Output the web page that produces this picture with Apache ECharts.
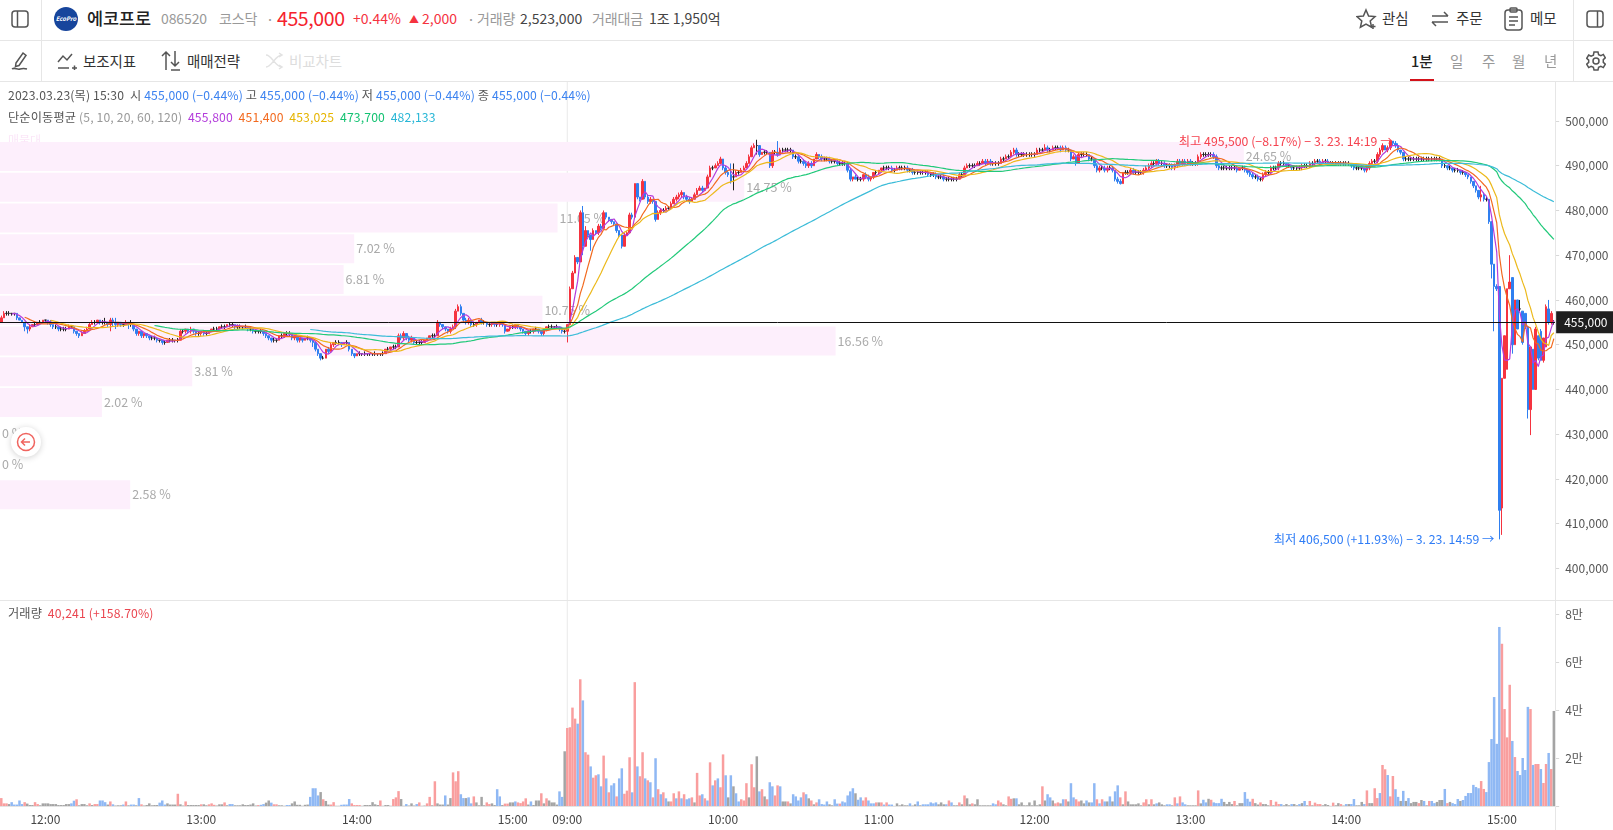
<!DOCTYPE html>
<html>
<head>
<meta charset="utf-8">
<title>에코프로 1분</title>
<script src="https://cdn.jsdelivr.net/npm/echarts@6/dist/echarts.min.js"></script>
<style>
  html, body { margin: 0; padding: 0; background: #fff; overflow: hidden; }
  body { width: 1613px; height: 830px; position: relative; font-family: "Noto Sans CJK KR", "Noto Sans", sans-serif; }
  #chart { position: absolute; left: 0; top: 0; width: 1613px; height: 830px; }
  .t { position: absolute; white-space: nowrap; transform: translateY(-50%); font-size: 14.5px; letter-spacing: -0.1px; color: #333; }
  .g { color: #999; }
  .line { position: absolute; background: #e6e6e6; }
  .ico { position: absolute; fill: none; stroke: #555; stroke-width: 1.5; }
  #bar1 { position: absolute; left: 0; top: 0; width: 1613px; height: 82px; background: #fff; }
  .leg { position: absolute; left: 8px; font-size: 12.2px; letter-spacing: 0.14px; white-space: nowrap; color: #555; transform: translateY(-50%); }
</style>
</head>
<body>
<div id="chart"></div>

<div id="bar1"></div>
<div class="line" style="left:0;top:40px;width:1613px;height:1px"></div>
<div class="line" style="left:0;top:81px;width:1613px;height:1px"></div>
<div class="line" style="left:41px;top:0;width:1px;height:82px"></div>
<div class="line" style="left:1573px;top:0;width:1px;height:82px"></div>
<div class="line" style="left:0;top:600px;width:1613px;height:1px"></div>
<div class="line" style="left:1555px;top:82px;width:1px;height:748px"></div>

<svg class="ico" style="left:11px;top:10px" width="18" height="18"><rect x="1" y="1" width="16" height="16" rx="3"/><line x1="6.5" y1="1" x2="6.5" y2="17"/></svg>
<svg style="position:absolute;left:54px;top:7px" width="24" height="24"><circle cx="12" cy="12" r="12" fill="#17459c"/><text x="12" y="14" font-size="6" font-style="italic" font-weight="700" fill="#fff" text-anchor="middle">EcoPro</text></svg>
<span class="t" style="left:87px;top:17px;font-size:17.5px;font-weight:500;color:#222">에코프로</span>
<span class="t g" style="left:161px;top:18px;font-size:14px">086520</span>
<span class="t g" style="left:219px;top:18px;font-size:14px">코스닥</span>
<span class="t g" style="left:266px;top:18px">·</span>
<span class="t" style="left:277px;top:17px;font-size:19.5px;color:#f5222d;letter-spacing:-0.4px">455,000</span>
<span class="t" style="left:353px;top:18px;font-size:14px;color:#f5333f;letter-spacing:0">+0.44%</span>
<span class="t" style="left:409px;top:18px;font-size:10px;color:#f5333f">▲</span>
<span class="t" style="left:422px;top:18px;font-size:14px;color:#f5333f;letter-spacing:0">2,000</span>
<span class="t g" style="left:467px;top:18px">·</span>
<span class="t g" style="left:477px;top:18px;font-size:14px">거래량</span>
<span class="t" style="left:520px;top:18px;font-size:14px;color:#444;letter-spacing:0">2,523,000</span>
<span class="t g" style="left:592px;top:18px;font-size:14px">거래대금</span>
<span class="t" style="left:649px;top:18px;font-size:14px;color:#444;letter-spacing:0">1조 1,950억</span>

<svg class="ico" style="left:1356px;top:8px" width="22" height="22"><path d="M10 2l2.6 6 6.4.6-4.8 4.3 1.4 6.3L10 16l-5.6 3.2 1.4-6.3L1 8.600l6.400-.6z"/><path d="M17 16v5M14.500 18.500h5"/></svg>
<span class="t" style="left:1382px;top:17px">관심</span>
<svg class="ico" style="left:1430px;top:9px" width="20" height="20"><path d="M2 7h16M14 3l4 4M18 13H2M6 17l-4-4"/></svg>
<span class="t" style="left:1456px;top:17px">주문</span>
<svg class="ico" style="left:1504px;top:7px" width="19" height="24"><rect x="1" y="3" width="17" height="20" rx="3"/><rect x="6" y="1" width="7" height="4" rx="1"/><path d="M5 10h9M5 14h9M5 18h6"/></svg>
<span class="t" style="left:1530px;top:17px">메모</span>
<svg class="ico" style="left:1586px;top:10px" width="18" height="18"><rect x="1" y="1" width="16" height="16" rx="3"/><line x1="11.500" y1="1" x2="11.500" y2="17"/></svg>

<svg class="ico" style="left:11px;top:51px" width="19" height="19"><path d="M5 12L12 2l3 2.500-7 10-3.500 1zM1 18c3-2 5 1 8 0s4-1 7 0"/></svg>
<svg class="ico" style="left:57px;top:52px" width="20" height="18"><path d="M1 10l5-6 4 4 5-6M1 16h11M15 16h5M17.500 13.500v5"/></svg>
<span class="t" style="left:83px;top:60px">보조지표</span>
<svg class="ico" style="left:161px;top:50px" width="20" height="21"><path d="M5 20V2M1 6l4-4 4 4M14 1v15M10 12l4 4 4-4M10 20h9"/></svg>
<span class="t" style="left:187px;top:60px">매매전략</span>
<svg class="ico" style="left:265px;top:52px;stroke:#e2e2e2" width="19" height="18"><path d="M1 3c6 0 9 12 16 12M1 15c6 0 9-12 16-12M14 1l3 2-3 2M14 13l3 2-3 2"/></svg>
<span class="t" style="left:289px;top:60px;color:#ddd">비교차트</span>

<span class="t" style="left:1411px;top:60px;font-weight:500;color:#222">1분</span>
<div style="position:absolute;left:1410px;top:79px;width:24px;height:2px;background:#d3121a"></div>
<span class="t g" style="left:1450px;top:60px">일</span>
<span class="t g" style="left:1482px;top:60px">주</span>
<span class="t g" style="left:1512px;top:60px">월</span>
<span class="t g" style="left:1544px;top:60px">년</span>
<svg class="ico" style="left:1586px;top:51px" width="20" height="20"><circle cx="10" cy="10" r="3"/><path d="M8 1h4l.6 2.600 2.300 1 2.400-1.200 2 3.400-2 1.800v2.800l2 1.800-2 3.400-2.400-1.200-2.300 1L12 19H8l-.6-2.600-2.300-1-2.400 1.200-2-3.400 2-1.800V9.200l-2-1.800 2-3.400 2.400 1.200 2.300-1z"/></svg>

<div class="leg" style="top:95px">2023.03.23(목) 15:30 &nbsp;시 <span style="color:#3b82f0">455,000 (−0.44%)</span> 고 <span style="color:#3b82f0">455,000 (−0.44%)</span> 저 <span style="color:#3b82f0">455,000 (−0.44%)</span> 종 <span style="color:#3b82f0">455,000 (−0.44%)</span></div>
<div class="leg" style="top:117px">단순이동평균 <span style="color:#999">(5, 10, 20, 60, 120)</span> &nbsp;<span style="color:#b33ddb">455,800</span> &nbsp;<span style="color:#f26a1f">451,400</span> &nbsp;<span style="color:#e6b400">453,025</span> &nbsp;<span style="color:#13c272">473,700</span> &nbsp;<span style="color:#27b6d6">482,133</span></div>
<div class="leg" style="top:613px">거래량 &nbsp;<span style="color:#ea4650">40,241 (+158.70%)</span></div>

<div style="position:absolute;left:11px;top:427px;width:30px;height:30px;border-radius:50%;background:#fff;box-shadow:0 1px 6px rgba(0,0,0,.18)">
  <svg width="30" height="30" fill="none" stroke="#f0645f" stroke-width="1.500"><circle cx="15" cy="15" r="8.500"/><path d="M19 15h-8M14 11.500L10.500 15l3.500 3.500M21 21"/></svg>
</div>

<script>
// price values are in units of 100 won (tick is 500 won), one row = 20 minutes
var opens = [
  4550,4560,4570,4570,4570,4570,4570,4560,4555,4550,4540,4535,4540,4545,4545,4550,4550,4555,4555,4550,
  4545,4540,4540,4535,4535,4535,4535,4540,4540,4530,4525,4520,4525,4530,4535,4545,4550,4550,4555,4550,
  4550,4550,4545,4555,4550,4545,4550,4545,4545,4550,4545,4545,4535,4525,4530,4520,4525,4520,4515,4515,
  4515,4510,4510,4505,4505,4510,4510,4510,4510,4510,4530,4530,4535,4530,4535,4530,4525,4525,4530,4525,
  4525,4530,4535,4535,4535,4540,4540,4540,4545,4545,4545,4540,4540,4540,4540,4540,4535,4535,4530,4530,
  4530,4530,4525,4520,4515,4510,4510,4510,4520,4520,4525,4525,4525,4515,4520,4510,4515,4510,4515,4515,
  4510,4505,4490,4480,4470,4470,4490,4485,4500,4505,4505,4505,4500,4505,4505,4490,4480,4475,4480,4480,
  4480,4480,4480,4480,4480,4480,4480,4480,4480,4490,4490,4495,4495,4495,4520,4515,4525,4515,4510,4515,
  4505,4505,4505,4505,4510,4515,4520,4520,4520,4550,4545,4540,4535,4530,4535,4540,4575,4585,4570,4555,
  4550,4555,4545,4545,4550,4555,4550,4550,4545,4545,4550,4545,4545,4550,4545,4530,4535,4540,4540,4545,
  4540,4535,4530,4525,4530,4530,4535,4535,4530,4525,4535,4540,4540,4540,4540,4540,4535,4530,4530,4545,
  4625,4660,4695,4685,4795,4720,4755,4745,4735,4755,4750,4765,4760,4795,4785,4780,4775,4770,4755,4745,
  4720,4745,4750,4790,4785,4860,4830,4825,4865,4830,4820,4825,4820,4780,4795,4800,4800,4805,4805,4815,
  4825,4830,4835,4840,4830,4825,4820,4825,4835,4845,4850,4845,4850,4875,4895,4895,4900,4905,4915,4895,
  4885,4880,4875,4875,4885,4885,4890,4895,4905,4920,4940,4945,4945,4925,4930,4930,4930,4900,4930,4930,
  4925,4935,4935,4935,4935,4935,4920,4920,4910,4910,4905,4900,4905,4900,4915,4925,4920,4915,4915,4915,
  4910,4910,4910,4905,4905,4905,4905,4890,4870,4875,4870,4870,4870,4880,4875,4870,4875,4885,4885,4890,
  4895,4895,4895,4895,4890,4890,4895,4895,4895,4895,4890,4890,4885,4885,4885,4885,4885,4885,4880,4880,
  4880,4875,4875,4875,4870,4870,4870,4870,4870,4870,4880,4880,4895,4900,4900,4900,4900,4905,4905,4910,
  4905,4910,4905,4905,4905,4905,4915,4915,4920,4920,4930,4935,4925,4925,4925,4925,4925,4925,4925,4925,
  4935,4935,4935,4940,4935,4935,4940,4940,4940,4935,4940,4935,4935,4915,4920,4905,4925,4925,4925,4925,
  4915,4915,4900,4890,4895,4895,4890,4895,4895,4890,4870,4865,4860,4885,4885,4885,4890,4885,4885,4885,
  4885,4890,4895,4900,4905,4905,4910,4905,4905,4900,4900,4900,4895,4900,4910,4905,4910,4905,4910,4905,
  4905,4905,4920,4925,4925,4925,4925,4925,4920,4900,4895,4895,4895,4895,4895,4895,4895,4890,4895,4895,
  4890,4885,4880,4875,4875,4870,4870,4880,4885,4885,4895,4895,4895,4905,4905,4905,4900,4900,4895,4895,
  4895,4895,4900,4900,4900,4905,4905,4910,4910,4905,4910,4910,4905,4905,4905,4905,4905,4905,4905,4905,
  4905,4900,4895,4895,4895,4895,4890,4895,4905,4910,4910,4925,4935,4945,4935,4940,4955,4950,4945,4935,
  4930,4915,4915,4915,4915,4915,4915,4915,4915,4915,4915,4915,4915,4915,4915,4915,4900,4900,4895,4895,
  4890,4890,4890,4885,4885,4880,4875,4865,4855,4845,4830,4835,4825,4825,4775,4680,4630,4630,4135,4425,
  4445,4625,4650,4500,4600,4580,4575,4570,4540,4355,4490,4400,4520,4530,4465,4495,4580,4550,4550
];
var closes = [
  4560,4570,4570,4570,4570,4570,4560,4555,4550,4540,4535,4540,4545,4545,4550,4550,4555,4555,4550,4545,
  4540,4540,4535,4535,4535,4535,4540,4540,4530,4525,4520,4525,4530,4535,4545,4550,4550,4555,4550,4550,
  4550,4545,4555,4550,4545,4550,4545,4545,4550,4545,4545,4535,4525,4530,4520,4525,4520,4515,4515,4515,
  4510,4510,4505,4505,4510,4510,4510,4510,4510,4530,4530,4535,4530,4535,4530,4525,4525,4530,4525,4525,
  4530,4535,4535,4535,4540,4540,4540,4545,4545,4545,4540,4540,4540,4540,4540,4535,4535,4530,4530,4530,
  4530,4525,4520,4515,4510,4510,4510,4520,4520,4525,4525,4525,4515,4520,4510,4515,4510,4515,4515,4510,
  4505,4490,4480,4470,4470,4490,4485,4500,4505,4505,4505,4500,4505,4505,4490,4480,4475,4480,4480,4480,
  4480,4480,4480,4480,4480,4480,4480,4480,4490,4490,4495,4495,4495,4520,4515,4525,4515,4510,4515,4505,
  4505,4505,4505,4510,4515,4520,4520,4520,4550,4545,4540,4535,4530,4535,4540,4575,4585,4570,4555,4550,
  4555,4545,4545,4550,4555,4550,4550,4545,4545,4550,4545,4545,4550,4545,4530,4535,4540,4540,4545,4540,
  4535,4530,4525,4530,4530,4535,4535,4530,4525,4535,4540,4540,4540,4540,4540,4535,4530,4530,4545,4625,
  4660,4695,4685,4795,4720,4755,4745,4735,4755,4750,4765,4760,4795,4785,4780,4775,4770,4755,4745,4720,
  4745,4750,4790,4785,4860,4830,4825,4865,4830,4820,4825,4820,4780,4795,4800,4800,4805,4805,4815,4825,
  4830,4835,4840,4830,4825,4820,4825,4835,4845,4850,4845,4850,4875,4895,4895,4900,4905,4915,4895,4885,
  4880,4865,4875,4885,4885,4890,4895,4905,4920,4940,4945,4945,4925,4930,4930,4930,4900,4930,4930,4925,
  4935,4935,4935,4935,4935,4920,4920,4910,4910,4905,4900,4905,4900,4915,4925,4920,4915,4915,4915,4910,
  4910,4910,4905,4905,4905,4905,4890,4870,4875,4870,4870,4870,4880,4875,4870,4875,4885,4885,4890,4895,
  4895,4895,4895,4890,4890,4895,4895,4895,4895,4890,4890,4885,4885,4885,4885,4885,4885,4880,4880,4880,
  4875,4875,4875,4870,4870,4870,4870,4870,4870,4880,4880,4895,4900,4900,4900,4900,4905,4905,4910,4905,
  4910,4905,4905,4905,4905,4915,4915,4920,4920,4930,4935,4925,4925,4925,4925,4925,4925,4925,4925,4935,
  4935,4935,4940,4935,4935,4940,4940,4940,4935,4940,4935,4935,4915,4920,4905,4925,4925,4925,4925,4915,
  4915,4900,4890,4895,4895,4890,4895,4895,4890,4870,4865,4860,4885,4885,4885,4890,4885,4885,4885,4885,
  4890,4895,4900,4905,4905,4910,4905,4905,4900,4900,4900,4895,4900,4910,4905,4910,4905,4910,4905,4905,
  4905,4920,4925,4925,4925,4925,4925,4920,4900,4895,4895,4895,4895,4895,4895,4895,4890,4895,4895,4890,
  4885,4880,4875,4875,4870,4870,4880,4885,4885,4895,4895,4895,4905,4905,4905,4900,4900,4895,4895,4895,
  4895,4900,4900,4900,4905,4905,4910,4910,4905,4910,4910,4905,4905,4905,4905,4905,4905,4905,4905,4905,
  4900,4895,4895,4895,4895,4890,4895,4905,4910,4910,4925,4935,4945,4935,4940,4955,4950,4945,4935,4930,
  4915,4915,4915,4915,4915,4915,4915,4915,4915,4915,4915,4915,4915,4915,4915,4900,4900,4895,4895,4890,
  4890,4890,4885,4885,4880,4875,4865,4855,4845,4830,4835,4825,4825,4775,4680,4630,4625,4130,4425,4520,
  4625,4640,4500,4600,4535,4580,4505,4540,4355,4495,4400,4535,4470,4465,4515,4585,4550,4570,4550
];
var highs = [
  4565,4575,4575,4575,4570,4570,4570,4560,4555,4550,4540,4545,4545,4550,4550,4555,4555,4555,4555,4555,
  4545,4545,4540,4540,4540,4540,4545,4540,4540,4530,4525,4530,4535,4540,4550,4555,4555,4555,4555,4555,
  4560,4550,4560,4560,4560,4550,4550,4550,4555,4550,4555,4545,4535,4530,4530,4525,4525,4520,4520,4520,
  4515,4510,4510,4510,4510,4515,4515,4510,4515,4535,4535,4535,4535,4540,4535,4530,4530,4530,4530,4530,
  4530,4535,4540,4540,4540,4545,4545,4545,4550,4550,4545,4545,4545,4540,4545,4540,4540,4535,4530,4530,
  4535,4530,4525,4520,4515,4515,4515,4520,4525,4525,4530,4530,4525,4520,4520,4515,4515,4515,4520,4515,
  4510,4505,4490,4480,4475,4490,4495,4505,4505,4510,4510,4505,4505,4510,4505,4490,4480,4480,4485,4480,
  4485,4480,4480,4480,4485,4480,4480,4485,4490,4495,4495,4500,4500,4525,4525,4530,4525,4520,4520,4515,
  4510,4510,4510,4510,4515,4520,4525,4525,4555,4550,4545,4540,4535,4540,4545,4580,4590,4590,4570,4560,
  4560,4555,4550,4550,4555,4560,4555,4550,4550,4550,4550,4550,4550,4550,4545,4535,4540,4545,4545,4545,
  4540,4535,4530,4530,4535,4535,4540,4535,4530,4535,4540,4545,4545,4540,4545,4540,4540,4535,4545,4630,
  4665,4700,4695,4800,4810,4765,4755,4745,4760,4755,4770,4770,4800,4795,4785,4780,4775,4770,4755,4745,
  4750,4755,4795,4795,4860,4860,4830,4870,4865,4835,4830,4825,4820,4800,4805,4805,4810,4810,4820,4830,
  4835,4840,4845,4840,4835,4830,4830,4840,4850,4855,4855,4850,4880,4900,4900,4905,4910,4920,4915,4900,
  4890,4905,4905,4890,4890,4895,4900,4910,4925,4945,4950,4958,4945,4930,4935,4935,4930,4935,4935,4955,
  4940,4940,4940,4940,4940,4935,4925,4925,4915,4915,4910,4910,4910,4915,4930,4925,4925,4920,4920,4920,
  4915,4915,4915,4910,4910,4910,4905,4895,4875,4880,4875,4875,4880,4885,4880,4875,4885,4890,4890,4895,
  4900,4900,4900,4900,4895,4900,4900,4900,4900,4900,4895,4895,4890,4890,4890,4890,4890,4890,4885,4885,
  4885,4880,4880,4880,4875,4875,4875,4875,4875,4885,4885,4900,4905,4905,4905,4905,4910,4910,4915,4915,
  4915,4915,4910,4910,4910,4920,4920,4925,4925,4935,4940,4940,4930,4930,4930,4930,4930,4930,4930,4940,
  4940,4940,4948,4945,4940,4945,4945,4945,4945,4945,4945,4940,4935,4925,4925,4930,4930,4930,4930,4925,
  4920,4915,4905,4900,4900,4900,4900,4900,4900,4890,4875,4870,4885,4890,4890,4895,4895,4890,4890,4890,
  4895,4900,4905,4910,4910,4915,4915,4910,4910,4905,4905,4905,4905,4915,4915,4915,4915,4915,4915,4910,
  4910,4925,4930,4930,4930,4930,4930,4930,4925,4905,4900,4900,4900,4900,4900,4900,4900,4895,4900,4900,
  4890,4890,4885,4880,4880,4875,4885,4890,4890,4900,4900,4900,4910,4910,4910,4905,4905,4900,4900,4900,
  4900,4905,4905,4905,4910,4910,4915,4915,4915,4915,4915,4915,4910,4910,4910,4910,4910,4910,4910,4910,
  4905,4905,4900,4900,4900,4895,4900,4910,4915,4915,4930,4940,4950,4945,4945,4955,4955,4955,4950,4935,
  4930,4920,4920,4920,4920,4920,4920,4920,4920,4920,4920,4920,4920,4920,4920,4915,4905,4900,4900,4895,
  4895,4895,4890,4890,4885,4880,4875,4865,4855,4845,4855,4840,4830,4825,4775,4680,4635,4630,4425,4520,
  4625,4700,4650,4600,4600,4600,4575,4570,4540,4495,4490,4540,4520,4535,4515,4590,4600,4575,4555
];
var lows = [
  4550,4560,4565,4565,4565,4565,4555,4555,4550,4530,4525,4530,4540,4540,4545,4545,4550,4550,4545,4540,
  4535,4535,4530,4530,4530,4530,4535,4535,4525,4520,4515,4520,4525,4530,4535,4545,4545,4550,4545,4545,
  4545,4540,4530,4540,4535,4540,4540,4540,4545,4535,4540,4530,4520,4520,4515,4515,4515,4510,4510,4510,
  4505,4505,4500,4500,4505,4505,4505,4505,4505,4510,4525,4525,4525,4525,4525,4520,4520,4520,4520,4520,
  4525,4530,4530,4530,4535,4535,4535,4540,4540,4540,4535,4535,4535,4535,4535,4530,4530,4525,4525,4525,
  4525,4520,4515,4510,4505,4505,4505,4510,4515,4515,4520,4520,4510,4510,4505,4505,4505,4510,4510,4505,
  4495,4485,4475,4465,4467,4470,4480,4485,4495,4500,4500,4495,4500,4500,4485,4475,4470,4475,4475,4475,
  4475,4475,4475,4475,4475,4475,4475,4475,4480,4485,4485,4490,4490,4495,4510,4510,4510,4505,4505,4500,
  4500,4500,4500,4505,4510,4515,4515,4515,4520,4540,4535,4530,4525,4525,4535,4535,4575,4565,4550,4545,
  4545,4540,4540,4540,4550,4545,4545,4540,4540,4540,4540,4540,4540,4540,4525,4530,4530,4535,4535,4535,
  4530,4525,4520,4520,4525,4525,4530,4525,4520,4520,4530,4535,4535,4535,4535,4530,4525,4525,4505,4545,
  4625,4660,4680,4685,4700,4720,4740,4710,4735,4745,4745,4755,4760,4780,4775,4770,4765,4750,4740,4715,
  4720,4745,4750,4780,4785,4825,4820,4825,4825,4815,4815,4815,4775,4780,4790,4795,4800,4800,4805,4815,
  4820,4825,4830,4825,4820,4815,4820,4825,4835,4845,4840,4845,4850,4875,4890,4895,4900,4905,4890,4880,
  4875,4860,4845,4875,4880,4885,4890,4895,4905,4920,4940,4925,4920,4925,4925,4925,4895,4895,4925,4920,
  4925,4930,4930,4930,4930,4915,4915,4905,4905,4900,4895,4895,4895,4900,4915,4915,4910,4910,4910,4905,
  4905,4905,4900,4900,4900,4900,4885,4865,4865,4870,4865,4865,4865,4870,4865,4865,4870,4880,4880,4885,
  4890,4890,4890,4885,4885,4890,4890,4890,4890,4885,4885,4880,4880,4880,4880,4880,4880,4875,4875,4875,
  4870,4870,4870,4865,4865,4865,4865,4865,4865,4870,4875,4880,4895,4895,4895,4895,4900,4900,4905,4900,
  4905,4900,4900,4900,4900,4905,4910,4915,4915,4920,4925,4920,4920,4920,4920,4920,4920,4920,4920,4925,
  4930,4930,4935,4930,4930,4935,4935,4935,4930,4935,4930,4930,4910,4915,4900,4905,4920,4920,4920,4910,
  4910,4895,4885,4885,4890,4885,4885,4890,4885,4865,4860,4858,4860,4880,4880,4880,4880,4880,4880,4880,
  4880,4885,4890,4895,4900,4900,4900,4900,4895,4895,4895,4890,4890,4895,4900,4900,4900,4900,4900,4900,
  4900,4900,4915,4920,4920,4920,4920,4915,4895,4890,4890,4890,4890,4890,4890,4890,4885,4890,4890,4885,
  4880,4875,4870,4870,4865,4865,4865,4875,4880,4880,4890,4890,4890,4900,4900,4895,4895,4890,4890,4890,
  4890,4890,4895,4895,4895,4900,4900,4905,4900,4905,4905,4900,4900,4900,4900,4900,4900,4900,4900,4900,
  4895,4890,4890,4890,4890,4885,4885,4890,4900,4905,4905,4920,4930,4935,4930,4935,4945,4940,4930,4925,
  4910,4910,4910,4910,4910,4910,4910,4910,4910,4910,4910,4910,4910,4910,4910,4895,4895,4890,4890,4885,
  4885,4885,4880,4880,4875,4870,4860,4850,4840,4825,4820,4820,4820,4770,4648,4530,4620,4065,4075,4425,
  4445,4625,4480,4500,4535,4575,4500,4535,4335,4298,4400,4400,4465,4465,4460,4495,4545,4545,4545
];

// volume in thousand shares
var volumes = [
  3.3,1.1,1.1,.8,1.6,.6,.6,2.3,.8,1.6,1,.4,.4,1.6,.8,.3,1.1,1.1,1.1,.8,
  .8,.8,.4,.4,.4,.8,.8,1.1,2.2,2.8,.3,.8,.8,.3,1.1,.4,.8,.8,2.3,2.3,
  1.6,.6,1.9,.7,.2,.3,.3,.6,1.9,.3,.6,.6,.3,3.3,.7,.2,.4,1.1,.3,.4,
  .4,1.4,2.3,.6,1.1,.6,.6,.6,5.1,.7,.2,1.9,.4,.4,.4,.4,.4,.7,.7,.3,
  .7,1.1,.5,.2,.7,.7,1.5,.3,.8,.8,.3,.3,.3,.7,.4,.4,.6,1.1,.2,.4,
  .5,.8,1.4,2.3,1.4,.7,.7,.3,.3,.1,.4,.4,1.1,1.9,.5,.5,.1,.5,.6,3.8,
  7.4,7.4,4.4,5.8,2.8,2.1,.6,.6,1.6,.1,.1,.5,.6,.6,2.9,1.1,.4,.4,.4,.1,
  .4,.4,.4,1.6,.7,.4,2.3,.1,.4,.4,.1,2.9,3.6,6.2,2.9,.1,.8,.2,1.1,.2,
  .8,1.5,.1,.2,1.1,3.8,.3,10.3,1.1,.6,.6,4.4,.6,3.3,14,10.3,14.5,4.9,3.3,3.3,
  3.6,1.1,4,1.5,.3,3.8,.3,1.5,.8,1.1,.4,7,4,.4,1,1,1.5,1.5,1.9,1.5,
  1.2,1.9,3.2,.6,1.9,.4,2.3,2.3,5.3,1.1,3.2,2.3,1.5,1.5,.6,6.1,3.8,22.8,32.5,32.8,
  41,36.4,34.3,52.8,44,22.4,21.4,16.5,11.8,12.8,13.2,8.2,21,11.5,5.7,8.6,9.5,4,11.5,15.7,
  5.1,6.4,20.3,5.7,51.6,16.5,12.4,22.4,11.5,10.7,9.9,3.6,19.9,7,4.9,5.7,3.2,1.9,1.9,5.3,
  3.2,6.1,3.2,4.9,2.8,3.2,3.6,1.5,13.8,4.4,4.9,3.2,2.3,18.2,8.6,10.7,11.5,7.8,21.5,12.8,
  3.6,12.8,8.2,5.3,1.9,2.8,2.3,9.5,3.6,17.4,7.8,20.7,6.1,7,4,2.8,9.9,8.2,4.4,8.6,
  8.2,1.9,1.9,1.9,1.1,4.9,4,2.3,3.6,5.7,4.9,3.2,2.3,.7,1.5,2.8,.8,.6,1.9,.7,
  .3,2.8,1,1,1.9,1.5,4.4,6.1,7.4,5.3,2.6,3.6,2.3,3.6,2.3,1.1,1.1,1.5,1.5,1.5,
  .6,1.5,.6,.6,.05,1.1,.3,.7,.3,.3,1.1,.2,.7,1.9,.3,.7,.7,.7,1.5,1.1,
  1.5,.7,1.5,.7,.7,2.3,1.5,.3,.3,1.5,.7,4.4,3.2,.7,1.1,.7,2.8,.3,.3,.3,
  .3,.3,1.1,.7,2.3,1.5,.7,.3,4,3,3.2,3.2,.7,1.5,.3,.3,1.5,.3,2.3,.3,
  .7,8.2,2.3,4.9,3.6,2.3,1.1,1.5,1.1,2.8,2.8,1.9,9.5,3.6,2.8,1.9,2.3,1.1,2.3,1.5,
  1.5,9.5,2.8,1.1,2.8,1.9,1.9,4,1.9,6.1,8.6,3.6,.7,6.1,1.9,.7,.7,.7,1.1,.3,
  1.5,2.8,.7,2.8,.7,1.1,1.5,.7,.3,.7,.7,.3,3.6,1.1,4,1.5,.7,.3,.3,.3,
  .3,6.5,1.1,2.6,1.5,3,2.6,1.5,1.2,1.2,3,1.7,.8,1.7,.8,2.1,.3,1.2,1.2,5.8,
  3,1.8,3,1.2,.6,1.5,.8,.8,.3,2.5,.3,1.8,.8,.8,.3,.8,.3,.8,.8,.3,
  .8,1.2,2.1,.3,2.1,.3,1.4,.8,.8,.3,.8,.4,.05,1.4,.3,1.2,.8,.2,.8,.8,
  .8,2.9,.3,.3,1.7,.8,6.5,1.2,1.2,7.4,3.3,5.4,17.1,15.3,12.9,4,12.5,7,3.8,2.1,
  6.3,2.1,3.3,1.2,1.7,1.7,1.2,2.5,2.1,.3,2.1,2.1,1.2,1.7,2.5,2.5,7.1,1.2,1.7,1.2,
  .8,2.9,2.1,2.5,4.2,5.4,5.4,8.8,7.9,7.4,10.4,7.1,5.8,18.3,27.9,45.4,25.9,74.6,67.6,40.4,
  28.6,50.5,27.1,20.4,14.6,12.9,20,15,41.3,40.4,17.1,17.5,17.5,15.4,9.6,17.5,22.1,15.4,39.6
];
// r up, b down, g flat
var volumeDirs =
  'rrrgbbbbbrgggrrggggg' + 'gggggggbbrggggrgrrbb' + 'bgrbgggbrgbbgbrggggg' + 'gbbbggggrggrgggggrgg' +
  'rrrgggrgbbgggggggggr' + 'bbggbrrgggbbgggggggb' + 'bbbgrggrrggbbbbrrrrg' + 'ggggggrggggrrrggbggg' +
  'brggrrgrgggbggrrrbbg' + 'bbrggggrrggbbgrrggbr' + 'rrrgbgggrgrggggbbgrr' + 'rrbrbrrbrrbbrbrbbrbb' +
  'rrrbrbrrbrbrbrbrbgrr' + 'brbrbbrgrrbrbrbrbrrb' + 'gbgbbrrrgrrgbrgrbbrr' + 'bggrgbbbbrbgrgrbbbbg' +
  'gbbrbbbbbgbbrrbbbrgr' + 'brbbggggggbggbgbbbbb' + 'bgggbrbggrgrggrggggg' + 'ggbbrrggrrgbgggggggg' +
  'grgbbgrrgbrgbbrrggbg' + 'bbrbrbgbgbbrgrgggggg' + 'rrgrgbgggbbgrbrbbggg' + 'grgbbgrbbbbggggrgggb' +
  'bbrggrgggrgrrbgggbgg' + 'bgbgrgrrrggggrggrgbg' + 'bbgggbrggrrbrrbrrbbg' + 'bgbgggrgbgrbbgggbrgb' +
  'bbgbbbbbbbrrbbbbbbrr' + 'rrbrbbbbbrbrrbrrbrg';

// price volume profile, top bucket first
var profilePct = [24.65, 14.75, 11.05, 7.02, 6.81, 10.75, 16.56, 3.81, 2.02, 0, 0, 2.58];
var maPeriods = [5, 10, 20, 60, 120];
var maColors = ['#b33ddb', '#f26a1f', '#ecb91c', '#22c97a', '#3cbcd8'];

var priceTicks = { min: 400000, max: 500000, step: 10000 };
var volumeTicks = { min: 0, max: 80000, step: 20000 };

// 11:43 ~ 15:20 of the day before, then 09:00 ~ 15:19 and the 15:30 close
var times = [];
function addMinutes(h, m, count) {
  for (var i = 0; i < count; i++) {
    var t = h * 60 + m + i;
    var mm = t % 60;
    times.push(Math.floor(t / 60) + ':' + (mm < 10 ? '0' + mm : mm));
  }
}
addMinutes(11, 43, 218);
addMinutes(9, 0, 380);
times.push('15:30');
for (var k = 0; k < times.length; k++) {
  if (times[k].length == 4) times[k] = '0' + times[k];
}

var candles = closes.map(function (c, i) {
  return [opens[i] * 100, c * 100, lows[i] * 100, highs[i] * 100];
});

function calcMA(n) {
  var out = [];
  for (var i = 0; i < closes.length; i++) {
    if (i < n - 1) { out.push('-'); continue; }
    var sum = 0;
    for (var j = 0; j < n; j++) sum += closes[i - j] * 100;
    out.push(sum / n);
  }
  return out;
}

var dirColor = { r: '#f99e9e', b: '#8fb8f4', g: '#a4a4a4' };
var volumeBars = volumes.map(function (v, i) {
  return { value: v * 1000, itemStyle: { color: dirColor[volumeDirs[i]] } };
});

var FONT = '"Noto Sans CJK KR", "Noto Sans", sans-serif';
var RED = '#f5333f', BLUE = '#2f7ff0';

function isHour(i, name) { return name.slice(3) == '00'; }

var maSeries = maPeriods.map(function (n, i) {
  return {
    name: 'MA' + n, type: 'line', xAxisIndex: 0, yAxisIndex: 0, data: calcMA(n),
    showSymbol: false, symbol: 'none', z: 4, silent: true,
    lineStyle: { width: 1.2, color: maColors[i] }
  };
});

var chart = echarts.init(document.getElementById('chart'));
chart.setOption({
  animation: false,
  textStyle: { fontFamily: FONT },
  grid: [
    { left: -0.45, top: 120.95, width: 1555.6, height: 447.5 },
    { left: -0.45, top: 614, width: 1555.6, height: 192 },
    { left: -2.9, top: 141, width: 1555, height: 369 }
  ],
  xAxis: [
    { type: 'category', gridIndex: 0, data: times, axisLine: { show: false }, axisTick: { show: false }, axisLabel: { show: false } },
    {
      type: 'category', gridIndex: 1, data: times,
      axisLine: { lineStyle: { color: '#e3e3e3' } },
      axisTick: { alignWithLabel: true, length: 4, interval: isHour, lineStyle: { color: '#d8d8d8' } },
      axisLabel: { interval: isHour, color: '#444', fontSize: 12, margin: 7, hideOverlap: false }
    },
    { type: 'value', gridIndex: 2, min: 0, max: 30.76, show: false }
  ],
  yAxis: [
    {
      type: 'value', gridIndex: 0, position: 'right', min: priceTicks.min, max: priceTicks.max, interval: priceTicks.step,
      splitLine: { show: false }, axisLine: { show: false },
      axisTick: { show: true, length: 4, lineStyle: { color: '#d8d8d8' } },
      axisLabel: { color: '#555', fontSize: 12, margin: 10, formatter: function (v) { return v.toLocaleString('en-US'); } }
    },
    {
      type: 'value', gridIndex: 1, position: 'right', min: volumeTicks.min, max: volumeTicks.max, interval: volumeTicks.step,
      splitLine: { show: false }, axisLine: { show: false },
      axisTick: { show: true, length: 4, lineStyle: { color: '#d8d8d8' } },
      axisLabel: { color: '#555', fontSize: 12, margin: 10, formatter: function (v) { return v ? v / 10000 + '만' : ''; } }
    },
    { type: 'category', gridIndex: 2, inverse: true, show: false, data: profilePct.map(function (p, i) { return 'b' + i; }) }
  ],
  series: [
    {
      name: 'profile', type: 'bar', xAxisIndex: 2, yAxisIndex: 2, data: profilePct, barWidth: 29, z: 1, silent: true,
      itemStyle: { color: '#fdeffc' },
      label: {
        show: true, position: 'right', distance: 2, color: '#aaa', fontSize: 12.5,
        formatter: function (p) { return p.value + ' %'; }
      }
    },
    {
      name: 'price', type: 'candlestick', xAxisIndex: 0, yAxisIndex: 0, data: candles, barWidth: 2, z: 3, silent: true,
      itemStyle: { color: RED, color0: BLUE, borderColor: RED, borderColor0: BLUE, borderColorDoji: '#222', borderWidth: 1 },
      markPoint: {
        symbol: 'circle', symbolSize: 0, silent: true,
        data: [
          {
            coord: [537, 495500],
            label: { show: true, position: 'left', distance: 0, offset: [-3, 0], color: '#f5424f', fontSize: 12.3, formatter: '최고 495,500 (−8.17%) − 3. 23. 14:19 →' }
          },
          {
            coord: [577, 406500],
            label: { show: true, position: 'left', distance: 0, offset: [-5, 0], color: '#2e7cf6', fontSize: 12.3, formatter: '최저 406,500 (+11.93%) − 3. 23. 14:59 →' }
          }
        ]
      },
      markLine: {
        symbol: 'none', silent: true, z: 6,
        lineStyle: { color: '#111', width: 1, type: 'solid' },
        data: [{
          yAxis: 455000,
          label: {
            show: true, position: 'end', distance: 1, formatter: '455,000', color: '#fff', fontSize: 12,
            backgroundColor: '#1f1f1f', width: 49, height: 22, lineHeight: 22, align: 'left', padding: [0, 0, 0, 8]
          }
        }]
      }
    }
  ].concat(maSeries).concat([
    { name: 'volume', type: 'bar', xAxisIndex: 1, yAxisIndex: 1, data: volumeBars, barWidth: '96%', silent: true }
  ])
});

// day break line at the first 09:00 bar, and the hidden profile title
var breakX = chart.convertToPixel({ xAxisIndex: 1 }, 218);
chart.setOption({
  graphic: [
    { type: 'line', z: 0, silent: true, shape: { x1: breakX, y1: 82, x2: breakX, y2: 806 }, style: { stroke: '#e9e9e9', lineWidth: 1 } },
    { type: 'text', z: 0, silent: true, x: 8, y: 134, style: { text: '매물대', fill: '#fbe6f8', fontSize: 12, fontFamily: FONT } }
  ]
});
</script>
</body>
</html>
